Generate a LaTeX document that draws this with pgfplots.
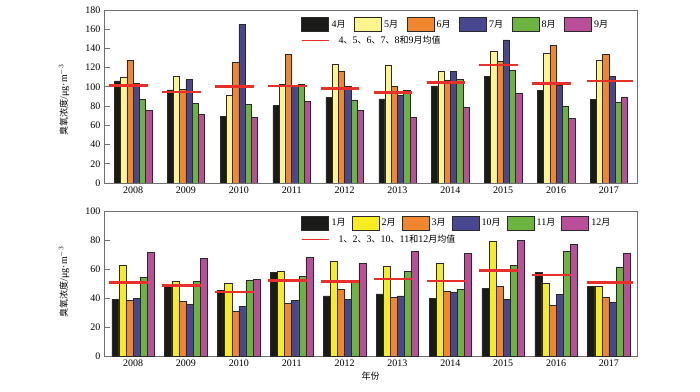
\documentclass[border=0pt]{standalone}
\usepackage{fontspec}
\setmainfont{Liberation Serif}
\newfontfamily\cjk[Scale=0.9]{Noto Sans CJK SC}
\newcommand\C[1]{{\cjk #1}}
\usepackage{pgfplots}
\usepackage{pgfplotstable}
\pgfplotsset{compat=1.18}
\definecolor{cblack}{HTML}{1A1A18}
\definecolor{cpale}{HTML}{FAF58C}
\definecolor{cyel}{HTML}{F5EC23}
\definecolor{corange}{HTML}{F0862E}
\definecolor{cblue}{HTML}{4A4791}
\definecolor{cgreen}{HTML}{6DB33F}
\definecolor{cmag}{HTML}{B94F98}
\definecolor{cred}{HTML}{E8302A}
\definecolor{cedge}{HTML}{2A2A2A}
\definecolor{caxis}{HTML}{707070}

\pgfplotstableread{
x a b c d e f
0 106.3 110.1 127.5 103.5 87.2 75.7
1 97.0 110.8 97.3 107.7 83.0 71.2
2 69.5 91.4 125.4 165.4 82.0 68.4
3 80.6 103.2 133.8 101.0 102.5 85.1
4 89.0 123.4 116.7 100.4 86.5 75.7
5 87.6 122.3 100.2 91.4 96.2 68.1
6 101.1 116.4 107.4 116.4 108.0 78.5
7 110.8 137.2 126.8 149.0 117.4 93.1
8 96.6 134.8 143.2 101.8 80.3 67.0
9 86.9 127.9 134.1 111.2 84.4 89.6
}\topdata

\pgfplotstableread{
x a b c d e f
0 39.3 62.8 38.8 40.0 54.3 71.8
1 48.5 51.5 38.1 35.8 51.5 67.7
2 45.7 50.1 30.7 34.6 52.4 52.9
3 58.0 58.4 36.7 38.6 55.2 68.6
4 41.6 65.6 46.4 39.0 51.0 64.4
5 43.0 62.1 40.6 41.6 58.9 72.3
6 40.0 64.0 45.0 44.3 46.4 70.9
7 46.7 79.2 48.0 39.3 62.8 80.1
8 58.0 50.6 35.1 42.5 72.5 77.6
9 48.5 48.0 40.6 37.0 61.7 70.9
}\botdata

\pgfplotsset{
  mybar/.style 2 args={ybar, bar width=#1, bar shift=#2, draw=cedge, line width=0.5pt,
    legend image code/.code={\draw[##1] (0pt,-6.7pt) rectangle (27pt,6.7pt);}},
  meanline/.style={color=cred, line width=2.6pt, unbounded coords=jump,
    legend image code/.code={\draw[cred, line width=1pt] (0pt,0pt) -- (27pt,0pt);}},
  common/.style={
    scale only axis, width=533pt,
    xmin=-0.55, xmax=9.53, ymin=0,
    xtick={0,...,9},
    xticklabels={2008,2009,2010,2011,2012,2013,2014,2015,2016,2017},
    xtick style={draw=none},
    ytick pos=left, tick align=inside, major tick length=6pt,
    axis line style={caxis, line width=0.8pt},
    ytick style={caxis, line width=0.8pt},
    /pgf/number format/assume math mode=true,
    tick label style={font=\fontsize{10}{12}\selectfont},
    every axis y label/.style={at={(axis description cs:-0.075,#1)}, rotate=90, anchor=center},
    ylabel={\C{臭氧浓度}/μg·m$^{-3}$},
    legend columns=6,
    legend style={draw=none, fill=none, inner sep=0pt, anchor=north west,
      font=\fontsize{10}{12}\selectfont,
      nodes={inner sep=2.5pt},
      row sep=2pt},
  },
}

\begin{document}
\begin{tikzpicture}
\path[use as bounding box] (0,0) rectangle (700pt,391pt);
% top axis
\begin{axis}[common=0.48,
  at={(104pt,208pt)}, anchor=south west, height=173pt,
  ymax=180, ytick={0,20,...,180},
  legend style={at={(axis description cs:0.3696,0.958)},
    /tikz/every even column/.append style={column sep=6pt}},
]
\addplot[mybar={0.118}{-0.295}, fill=cblack] table[x=x,y=a] {\topdata};
\addplot[mybar={0.118}{-0.177}, fill=cpale] table[x=x,y=b] {\topdata};
\addplot[mybar={0.118}{-0.059}, fill=corange] table[x=x,y=c] {\topdata};
\addplot[mybar={0.118}{0.059}, fill=cblue] table[x=x,y=d] {\topdata};
\addplot[mybar={0.118}{0.177}, fill=cgreen] table[x=x,y=e] {\topdata};
\addplot[mybar={0.118}{0.295}, fill=cmag] table[x=x,y=f] {\topdata};
\addplot[meanline] coordinates {
(-0.45,101.5)(0.28,101.5)(0.5,nan)
(0.55,94.5)(1.28,94.5)(1.5,nan)
(1.55,100.4)(2.28,100.4)(2.5,nan)
(2.55,101.1)(3.28,101.1)(3.5,nan)
(3.55,98.3)(4.28,98.3)(4.5,nan)
(4.55,93.9)(5.28,93.9)(5.5,nan)
(5.55,104.6)(6.28,104.6)(6.5,nan)
(6.55,122.7)(7.28,122.7)(7.5,nan)
(7.55,103.5)(8.28,103.5)(8.5,nan)
(8.58,106.0)(9.46,106.0)};
\legend{4\C{月},5\C{月},6\C{月},7\C{月},8\C{月},9\C{月},
  \makebox[0pt][l]{4\C{、}5\C{、}6\C{、}7\C{、}8\C{和}9\C{月均值}}}
\end{axis}
% bottom axis
\begin{axis}[common=0.513,
  at={(104pt,35pt)}, anchor=south west, height=144.3pt,
  ymax=100, ytick={0,20,...,100},
  legend style={at={(axis description cs:0.3696,0.97)},
    /tikz/every even column/.append style={column sep=3.5pt}},
  xlabel={\C{年份}},
  every axis x label/.style={at={(axis description cs:0.5,0)}, anchor=center, yshift=-20pt},
]
\addplot[mybar={0.134}{-0.335}, fill=cblack] table[x=x,y=a] {\botdata};
\addplot[mybar={0.134}{-0.201}, fill=cyel] table[x=x,y=b] {\botdata};
\addplot[mybar={0.134}{-0.067}, fill=corange] table[x=x,y=c] {\botdata};
\addplot[mybar={0.134}{0.067}, fill=cblue] table[x=x,y=d] {\botdata};
\addplot[mybar={0.134}{0.201}, fill=cgreen] table[x=x,y=e] {\botdata};
\addplot[mybar={0.134}{0.335}, fill=cmag] table[x=x,y=f] {\botdata};
\addplot[meanline] coordinates {
(-0.45,51.0)(0.28,51.0)(0.5,nan)
(0.55,49.0)(1.28,49.0)(1.5,nan)
(1.55,44.3)(2.28,44.3)(2.5,nan)
(2.55,52.4)(3.28,52.4)(3.5,nan)
(3.55,51.7)(4.28,51.7)(4.5,nan)
(4.55,53.3)(5.28,53.3)(5.5,nan)
(5.55,52.0)(6.28,52.0)(6.5,nan)
(6.55,59.4)(7.28,59.4)(7.5,nan)
(7.55,56.1)(8.28,56.1)(8.5,nan)
(8.58,51.0)(9.46,51.0)};
\legend{1\C{月},2\C{月},3\C{月},10\C{月},11\C{月},12\C{月},
  \makebox[0pt][l]{1\C{、}2\C{、}3\C{、}10\C{、}11\C{和}12\C{月均值}}}
\end{axis}
\end{tikzpicture}
\end{document}
